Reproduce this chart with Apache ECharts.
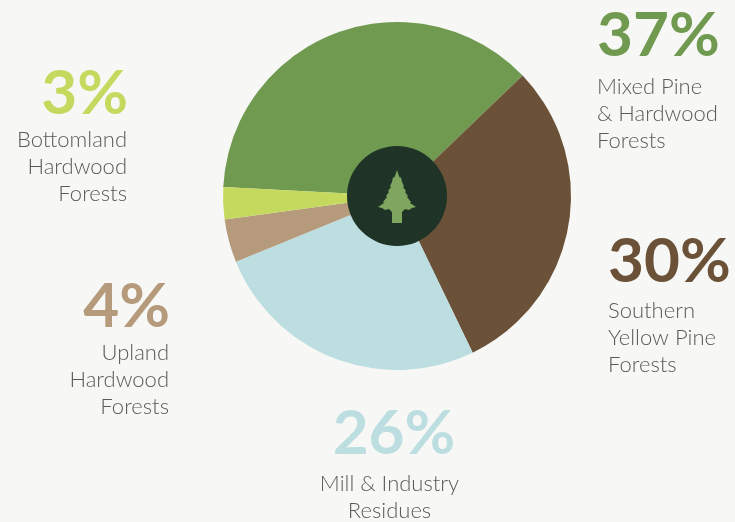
<!DOCTYPE html>
<html>
<head>
<meta charset="utf-8">
<style>html,body{margin:0;padding:0;background:#f7f7f5}#chart{width:735px;height:522px}</style>
<script src="https://cdn.jsdelivr.net/npm/echarts@6/dist/echarts.min.js"></script>
</head>
<body>
<div id="chart"></div>
<script>
// Sources of wood fibre, in percent, clockwise from the top-left of the ring
const sourceLines = [
  ['Mixed Pine', '& Hardwood', 'Forests'],
  ['Southern', 'Yellow Pine', 'Forests'],
  ['Mill & Industry', 'Residues'],
  ['Upland', 'Hardwood', 'Forests'],
  ['Bottomland', 'Hardwood', 'Forests']
];
const shares = [37, 30, 26, 4, 3];
const colours = ['#6f9a50', '#6b5138', '#bcdee1', '#b59a7c', '#c4d95e'];

// Where each text block sits on the page, how it is aligned, the height of its
// percentage line, and the right-hand inset of its description lines
const labelPlaces = [
  { x: 597, y: -1, align: 'left', head: 74, inset: 0 },
  { x: 608, y: 226, align: 'left', head: 71, inset: 0 },
  { x: 394, y: 398, align: 'center', head: 72, inset: 9 },
  { x: 170, y: 275, align: 'right', head: 64, inset: 1 },
  { x: 128, y: 61, align: 'right', head: 65, inset: 1 }
];

const cx = 397, cy = 196;

// One side of the tree outline, tip to trunk; mirrored to close the shape
const treeSide = [
  [0, -27], [2, -21], [3, -19], [4, -20], [5, -15], [7, -11], [6, -10], [9, -6],
  [8, -5], [11, -1], [10, 0], [14, 5], [13, 6], [19, 10], [15, 11], [12, 13],
  [8, 12], [5, 15], [5, 26]
];
const treeOutline = treeSide.concat(treeSide.slice().reverse().map(p => [-p[0], p[1]]));

const chart = echarts.init(document.getElementById('chart'));
chart.setOption({
  backgroundColor: '#f7f7f5',
  animation: false,
  series: [{
    type: 'pie',
    center: [cx, cy],
    radius: [0, 174],
    startAngle: 177,
    clockwise: true,
    silent: true,
    data: shares.map((v, i) => ({
      value: v,
      name: sourceLines[i].join(' '),
      itemStyle: { color: colours[i] },
      label: {
        show: true,
        overflow: 'none',
        width: 200,
        formatter: '{pct|' + v + '%}\n' + sourceLines[i].map(l => '{txt|' + l + '}').join('\n'),
        align: labelPlaces[i].align,
        rich: {
          pct: {
            fontFamily: 'Lato', fontSize: 62, fontWeight: 700, lineHeight: labelPlaces[i].head,
            color: colours[i], align: labelPlaces[i].align
          },
          txt: {
            fontFamily: 'Lato', fontSize: 22, fontWeight: 300, lineHeight: 27,
            color: '#5a5a58', align: labelPlaces[i].align,
            padding: [0, labelPlaces[i].inset, 0, 0]
          }
        }
      }
    })),
    labelLine: { show: false },
    labelLayout: params => {
      const p = labelPlaces[params.dataIndex];
      return { x: p.x, y: p.y, align: p.align, verticalAlign: 'top', hideOverlap: false };
    }
  }],
  graphic: [
    { type: 'circle', z: 10, shape: { cx, cy, r: 50 }, style: { fill: '#1f3326' } },
    { type: 'polygon', z: 11, x: cx, y: cy + 1, shape: { points: treeOutline }, style: { fill: '#7fa65f' } }
  ]
});
</script>
</body>
</html>
